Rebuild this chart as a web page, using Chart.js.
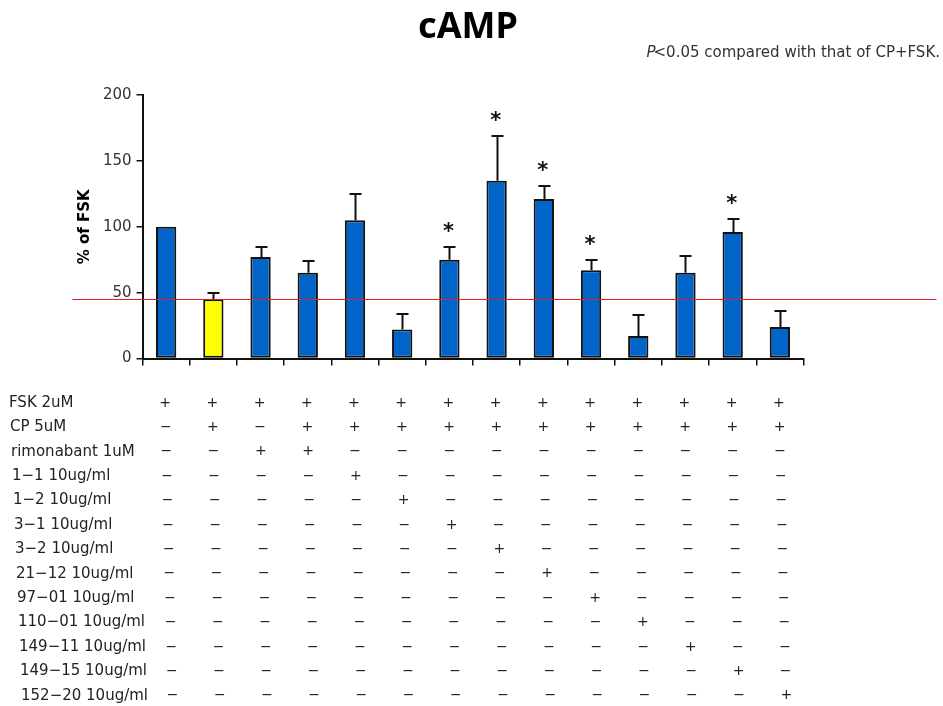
<!DOCTYPE html>
<html>
<head>
<meta charset="utf-8">
<script src="https://cdn.jsdelivr.net/npm/chart.js@4/dist/chart.umd.min.js"></script>
<style>
  html, body { margin: 0; padding: 0; background: #fff; }
  #wrap { width: 943px; height: 706px; position: relative; }
</style>
</head>
<body>
<div id="wrap"><canvas id="chart" width="943" height="706"></canvas></div>
<script>
// cAMP level for each treatment group, as % of the forskolin-only response
const categories = [
  'FSK', 'FSK+CP', 'FSK+rimonabant', 'FSK+CP+rimonabant',
  'FSK+CP+1-1', 'FSK+CP+1-2', 'FSK+CP+3-1', 'FSK+CP+3-2',
  'FSK+CP+21-12', 'FSK+CP+97-01', 'FSK+CP+110-01',
  'FSK+CP+149-11', 'FSK+CP+149-15', 'FSK+CP+152-20'
];
const meanPct = [100, 45, 77, 65, 105, 22, 75, 135, 121, 67, 17, 65, 96, 24];
const semPct  = [0, 5, 8, 9, 20, 12, 10, 34, 10, 8, 16, 13, 10, 12];
// P < 0.05 versus CP + FSK
const significant = [false, false, false, false, false, false, true, true, true, true, false, false, true, false];
const controlIndex = 1; // CP + FSK group, also the reference level
const yTicks = [0, 50, 100, 150, 200];

// Treatment table printed under the bars
const treatmentLabels = [
  'FSK 2uM', 'CP 5uM', 'rimonabant 1uM',
  '1\u22121 10ug/ml', '1\u22122 10ug/ml', '3\u22121 10ug/ml', '3\u22122 10ug/ml',
  '21\u221212 10ug/ml', '97\u221201 10ug/ml', '110\u221201 10ug/ml',
  '149\u221211 10ug/ml', '149\u221215 10ug/ml', '152\u221220 10ug/ml'
];
const treatmentMarks = [
  '++++++++++++++',
  '-+-+++++++++++',
  '--++----------',
  '----+---------',
  '-----+--------',
  '------+-------',
  '-------+------',
  '--------+-----',
  '---------+----',
  '----------+---',
  '-----------+--',
  '------------+-',
  '-------------+'
];

const BLUE = '#0064c8';
const YELLOW = '#ffff00';
const FONT = '"DejaVu Sans", sans-serif';

Chart.defaults.font.family = FONT;

const overlay = {
  id: 'overlay',
  afterDatasetsDraw(chart) {
    const { ctx, chartArea, scales: { x, y } } = chart;
    ctx.save();

    // upward error bars
    ctx.strokeStyle = '#111';
    ctx.lineWidth = 2;
    meanPct.forEach((m, i) => {
      if (!semPct[i]) return;
      const cx = Math.round(x.getPixelForValue(i)) + 0.5;
      const y0 = y.getPixelForValue(m);
      const y1 = Math.round(y.getPixelForValue(m + semPct[i]));
      ctx.beginPath();
      ctx.moveTo(cx, y0);
      ctx.lineTo(cx, y1);
      ctx.moveTo(cx - 6, y1);
      ctx.lineTo(cx + 6, y1);
      ctx.stroke();
    });

    // significance asterisks
    ctx.fillStyle = '#111';
    ctx.font = 'bold 21px ' + FONT;
    ctx.textAlign = 'center';
    ctx.textBaseline = 'middle';
    meanPct.forEach((m, i) => {
      if (!significant[i]) return;
      const cx = x.getPixelForValue(i) - 1;
      const top = y.getPixelForValue(m + semPct[i]);
      ctx.fillText('*', cx, top - 14);
    });

    // reference line at the CP + FSK level
    const ry = Math.round(y.getPixelForValue(meanPct[controlIndex])) + 0.5;
    ctx.strokeStyle = '#e0202a';
    ctx.lineWidth = 1;
    ctx.beginPath();
    ctx.moveTo(chartArea.left - 70, ry);
    ctx.lineTo(chartArea.right + 133, ry);
    ctx.stroke();

    ctx.restore();
  },
  afterDraw(chart) {
    const { ctx, scales: { x } } = chart;
    ctx.save();

    // title
    ctx.fillStyle = '#000';
    ctx.font = 'bold 36px "Noto Sans", sans-serif';
    ctx.textAlign = 'center';
    ctx.textBaseline = 'alphabetic';
    ctx.fillText('cAMP', 468, 38);

    // significance note
    ctx.fillStyle = '#333';
    ctx.textAlign = 'right';
    ctx.font = '15px ' + FONT;
    const rest = '<0.05 compared with that of CP+FSK.';
    ctx.fillText(rest, 940, 57);
    const restW = ctx.measureText(rest).width;
    ctx.font = 'italic 15px ' + FONT;
    ctx.fillText('P', 940 - restW + 2, 57);

    // treatment table
    ctx.fillStyle = '#222';
    ctx.textBaseline = 'middle';
    treatmentLabels.forEach((label, r) => {
      const ty = 403 + r * 24.4;
      ctx.font = '15px ' + FONT;
      ctx.textAlign = 'left';
      ctx.fillText(label, 9 + r, ty);
      ctx.font = '14px ' + FONT;
      ctx.textAlign = 'center';
      const marks = treatmentMarks[r];
      for (let c = 0; c < marks.length; c++) {
        const tx = x.getPixelForValue(c) - 1 + r * 0.62;
        ctx.fillText(marks[c] === '+' ? '+' : '\u2212', tx, ty);
      }
    });

    ctx.restore();
  }
};

new Chart(document.getElementById('chart'), {
  type: 'bar',
  data: {
    labels: categories,
    datasets: [{
      data: meanPct,
      backgroundColor: meanPct.map((_, i) => i === controlIndex ? YELLOW : BLUE),
      borderColor: '#111',
      borderWidth: 2,
      borderSkipped: false,
      barPercentage: 0.43,
      categoryPercentage: 1.0
    }]
  },
  options: {
    responsive: false,
    animation: false,
    devicePixelRatio: 1,
    layout: { padding: { left: 72.5, right: 139.5, top: 95, bottom: 340.5 } },
    plugins: {
      legend: { display: false },
      tooltip: { enabled: false },
      title: { display: false }
    },
    scales: {
      x: {
        grid: { drawOnChartArea: false, drawTicks: true, tickLength: 7, color: '#111', lineWidth: 1.5, offset: true },
        border: { display: true, color: '#111', width: 2 },
        ticks: { display: false }
      },
      y: {
        min: 0,
        max: 200,
        afterBuildTicks: (scale) => { scale.ticks = yTicks.map(v => ({ value: v })); },
        grid: { drawOnChartArea: false, drawTicks: true, tickLength: 6, color: '#111', lineWidth: 1.5 },
        border: { display: true, color: '#111', width: 2 },
        ticks: { color: '#333', font: { size: 15, family: FONT }, padding: 5 },
        title: {
          display: true,
          text: '% of FSK',
          color: '#000',
          font: { size: 15, weight: 'bold', family: FONT },
          padding: { top: 4, bottom: 3.4 }
        }
      }
    }
  },
  plugins: [overlay]
});
</script>
</body>
</html>
